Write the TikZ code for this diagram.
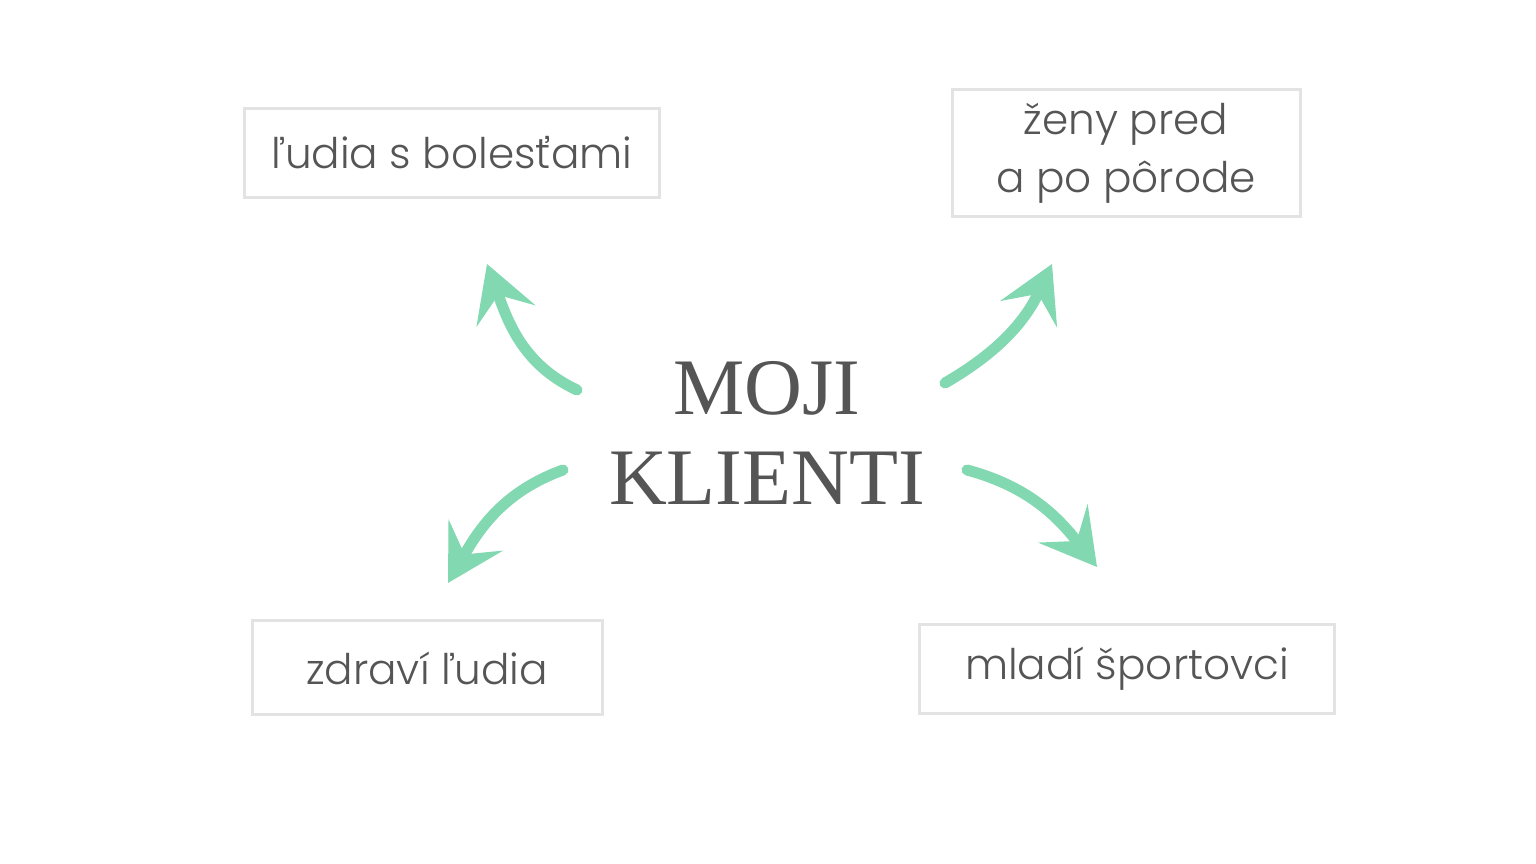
\documentclass[tikz,border=0pt]{standalone}
\usepackage{fontspec}
\setmainfont{Liberation Serif}
\newfontfamily\boxfont{Poppins Light}
\usetikzlibrary{arrows.meta}
\definecolor{mint}{HTML}{82D8B0}
\definecolor{ink}{HTML}{555555}
\definecolor{frame}{HTML}{E3E3E3}

\begin{document}
\begin{tikzpicture}[node distance=3.5cm,
    box/.style={draw=frame,line width=0.03cm,text=ink,align=center,inner sep=0pt,
      font=\boxfont\fontsize{12}{16.5}\selectfont},
    brush/.style={draw=mint,line width=0.11cm,line cap=round,
      -{Stealth[length=0.55cm,width=0.62cm,inset=0.22cm]}}]
  \path[fill=white,use as bounding box] (0,0) rectangle (15.36,8.64);

  \node [text=ink,align=center,font=\fontsize{22.8}{25.6}\selectfont] (center) at (7.67,4.31) {MOJI\\KLIENTI};
  \node [box,minimum width=4.15cm,minimum height=0.89cm,left of=center,xshift=0.35cm,yshift=2.80cm] (pain) {ľudia s bolesťami};
  \node [box,minimum width=3.48cm,minimum height=1.27cm,right of=center,xshift=0.09cm,yshift=2.80cm] (mothers) {ženy pred\\a po pôrode};
  \node [box,minimum width=3.50cm,minimum height=0.94cm,left of=center,xshift=0.10cm,yshift=-2.35cm] (healthy) {zdraví ľudia};
  \node [box,minimum width=4.15cm,minimum height=0.89cm,right of=center,xshift=0.10cm,yshift=-2.36cm] (sport) {mladí športovci};

  \coordinate (pain-tail) at (5.77,4.74);
  \coordinate (pain-tip) at (4.87,6.00);
  \coordinate (mothers-tail) at (9.45,4.81);
  \coordinate (mothers-tip) at (10.52,6.00);
  \coordinate (healthy-tail) at (5.63,3.94);
  \coordinate (healthy-tip) at (4.48,2.81);
  \coordinate (sport-tail) at (9.67,3.94);
  \coordinate (sport-tip) at (10.97,2.97);

  \draw[brush] (pain-tail) to[out=155,in=-70] (pain-tip);
  \draw[brush] (mothers-tail) to[out=30,in=-115] (mothers-tip);
  \draw[brush] (healthy-tail) to[out=200,in=60] (healthy-tip);
  \draw[brush] (sport-tail) to[out=-15,in=128] (sport-tip);

\end{tikzpicture}
\end{document}
